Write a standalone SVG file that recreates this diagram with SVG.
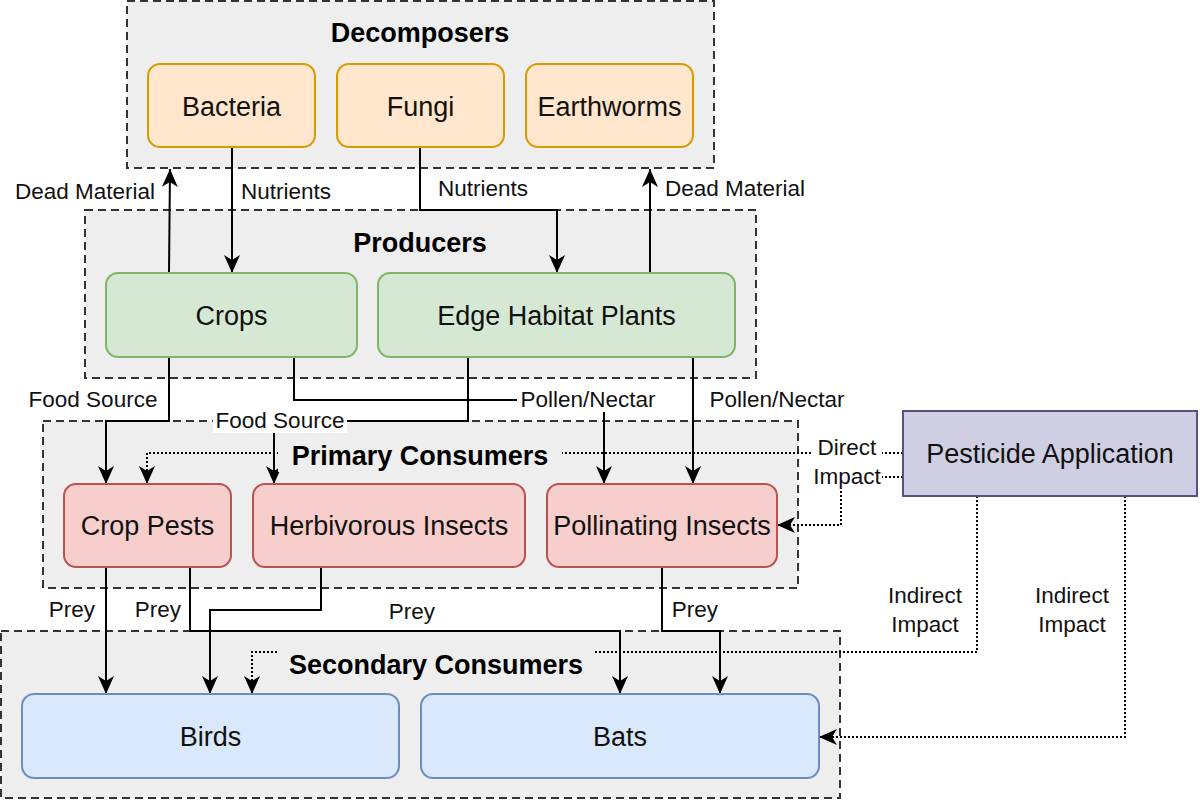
<svg xmlns="http://www.w3.org/2000/svg" width="1200" height="802" viewBox="0 0 1200 802">
<style>
.cont{fill:#eeeeee;stroke:#333333;stroke-width:2;stroke-dasharray:8 5}
.title{font-family:"Liberation Sans",Arial,sans-serif;font-size:27px;font-weight:bold;fill:#000;text-anchor:middle}
.nl{font-family:"Liberation Sans",Arial,sans-serif;font-size:27px;fill:#111;text-anchor:middle}
.el{font-family:"Liberation Sans",Arial,sans-serif;font-size:22.5px;fill:#111;text-anchor:middle}
.orange{fill:#ffe6cc;stroke:#d79b00;stroke-width:2}
.green{fill:#d5e8d4;stroke:#82b366;stroke-width:2}
.red{fill:#f8cecc;stroke:#b85450;stroke-width:2}
.blue{fill:#dae8fc;stroke:#6c8ebf;stroke-width:2}
.purple{fill:#d0cee2;stroke:#56517e;stroke-width:2}
.solid{fill:none;stroke:#000;stroke-width:2;marker-end:url(#arr)}
.dot{fill:none;stroke:#000;stroke-width:2;stroke-dasharray:2 2;marker-end:url(#arr)}
.wbg{fill:#ffffff}
.gbg{fill:#eeeeee}
</style>
<defs>
<marker id="arr" markerUnits="userSpaceOnUse" markerWidth="20" markerHeight="18" refX="18" refY="8" orient="auto">
<path d="M0,0 L18,8 L0,16 L5,8 Z" fill="#000"/>
</marker>
</defs>
<rect width="1200" height="802" fill="#ffffff"/>

<g id="decomposers-container"><rect class="cont" x="127" y="1" width="587" height="167"/></g>
<g id="producers-container"><rect class="cont" x="85" y="210" width="671" height="168"/></g>
<g id="primary-container"><rect class="cont" x="43" y="421" width="755" height="167"/></g>
<g id="secondary-container"><rect class="cont" x="1" y="631" width="839" height="167"/></g>

<g id="connectors">
<path class="solid" d="M169,273 L170,169"/>
<path class="solid" d="M232,147 L232,273"/>
<path class="solid" d="M420,147 L420,210 L557,210 L557,273"/>
<path class="solid" d="M650,273 L650,169"/>
<path class="solid" d="M169,357 L169,421 L106,421 L106,484"/>
<path class="solid" d="M468,357 L468,421 L274,421 L274,484"/>
<path class="solid" d="M294,357 L294,400 L604,400 L604,484"/>
<path class="solid" d="M693,357 L693,484"/>
<path class="solid" d="M106,567 L106,694"/>
<path class="solid" d="M190,567 L190,631 L620,631 L620,694"/>
<path class="solid" d="M321,567 L321,610 L210,610 L210,694"/>
<path class="solid" d="M662,567 L662,631 L720,631 L720,694"/>
<path class="dot" d="M903,453 L147,453 L147,484"/>
<path class="dot" d="M903,477 L841,477 L841,525 L777,525"/>
<path class="dot" d="M977,496 L977,652 L252,652 L252,694"/>
<path class="dot" d="M1125,496 L1125,737 L819,737"/>

<text class="el" x="85" y="199">Dead Material</text>
<text class="el" x="286" y="199">Nutrients</text>
<text class="el" x="483" y="196">Nutrients</text>
<text class="el" x="735" y="196">Dead Material</text>
<text class="el" x="93" y="407">Food Source</text>
<rect class="wbg" x="213" y="409" width="134" height="24"/>
<text class="el" x="280" y="428">Food Source</text>
<rect class="wbg" x="517" y="389" width="142" height="23"/>
<text class="el" x="588" y="407">Pollen/Nectar</text>
<text class="el" x="777" y="407">Pollen/Nectar</text>
<rect class="wbg" x="812" y="437" width="70" height="53"/>
<text class="el" x="847" y="455">Direct</text>
<text class="el" x="847" y="484">Impact</text>
<text class="el" x="925" y="603">Indirect</text>
<text class="el" x="925" y="632">Impact</text>
<text class="el" x="1072" y="603">Indirect</text>
<text class="el" x="1072" y="632">Impact</text>
<text class="el" x="72" y="617">Prey</text>
<text class="el" x="158" y="617">Prey</text>
<text class="el" x="412" y="619">Prey</text>
<text class="el" x="695" y="617">Prey</text>
</g>

<g id="titles">
<text class="title" x="420" y="42">Decomposers</text>
<text class="title" x="420" y="252">Producers</text>
<rect class="gbg" x="278" y="438" width="284" height="34"/>
<text class="title" x="420" y="465">Primary Consumers</text>
<rect class="gbg" x="277" y="640" width="317" height="34"/>
<text class="title" x="436" y="674">Secondary Consumers</text>
</g>

<g id="bacteria"><rect class="orange" x="148" y="64" width="167" height="83" rx="12"/><text class="nl" x="231.5" y="115.5">Bacteria</text></g>
<g id="fungi"><rect class="orange" x="337" y="64" width="167" height="83" rx="12"/><text class="nl" x="420.5" y="115.5">Fungi</text></g>
<g id="earthworms"><rect class="orange" x="526" y="64" width="167" height="83" rx="12"/><text class="nl" x="609.5" y="115.5">Earthworms</text></g>

<g id="crops"><rect class="green" x="106" y="273" width="251" height="84" rx="12"/><text class="nl" x="231.5" y="325">Crops</text></g>
<g id="edge-habitat-plants"><rect class="green" x="378" y="273" width="357" height="84" rx="12"/><text class="nl" x="556.5" y="325">Edge Habitat Plants</text></g>

<g id="crop-pests"><rect class="red" x="64" y="484" width="167" height="83" rx="12"/><text class="nl" x="147.5" y="535">Crop Pests</text></g>
<g id="herbivorous-insects"><rect class="red" x="253" y="484" width="272" height="83" rx="12"/><text class="nl" x="389" y="535">Herbivorous Insects</text></g>
<g id="pollinating-insects"><rect class="red" x="547" y="484" width="230" height="83" rx="12"/><text class="nl" x="662" y="535">Pollinating Insects</text></g>

<g id="birds"><rect class="blue" x="22" y="694" width="377" height="84" rx="12"/><text class="nl" x="210.5" y="745.5">Birds</text></g>
<g id="bats"><rect class="blue" x="421" y="694" width="398" height="84" rx="12"/><text class="nl" x="620" y="745.5">Bats</text></g>

<g id="pesticide-application"><rect class="purple" x="903" y="411" width="294" height="85"/><text class="nl" x="1050" y="463">Pesticide Application</text></g>
</svg>
